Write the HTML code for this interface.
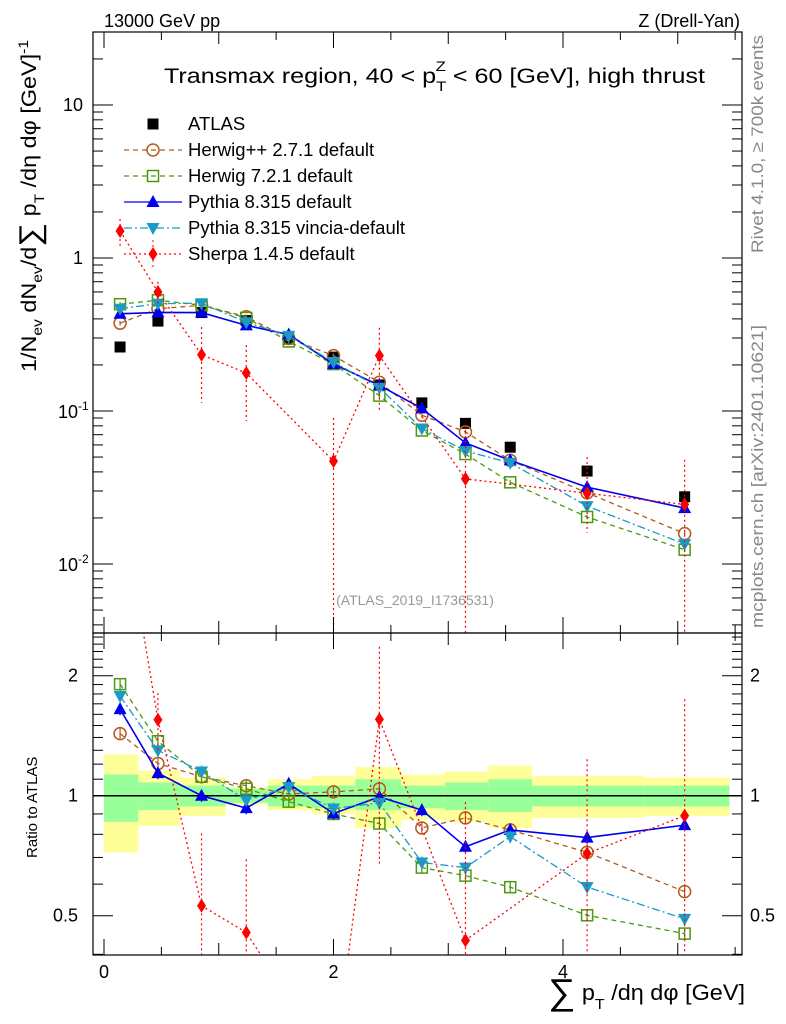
<!DOCTYPE html>
<html><head><meta charset="utf-8">
<style>
html,body{margin:0;padding:0;background:#fff;overflow:hidden;}
svg{display:block;}
svg text{font-family:"Liberation Sans","DejaVu Sans",sans-serif;}
</style></head>
<body>
<svg id="c" width="786" height="1024" viewBox="0 0 786 1024" xmlns="http://www.w3.org/2000/svg">
<text x="104" y="27" font-size="18">13000 GeV pp</text>
<text x="740" y="27" font-size="18" text-anchor="end">Z (Drell-Yan)</text>
<text x="164" y="83" font-size="21" textLength="541" lengthAdjust="spacingAndGlyphs">Transmax region, 40 &lt; p<tspan font-size="14" dy="8">T</tspan><tspan font-size="14" dx="-9" dy="-20">Z</tspan><tspan dy="12"> &lt; 60 [GeV], high thrust</tspan></text>
<text transform="translate(36,372) rotate(-90)" font-size="21" textLength="332" lengthAdjust="spacingAndGlyphs">1/N<tspan font-size="14" dy="6">ev</tspan><tspan dy="-6"> dN</tspan><tspan font-size="14" dy="6">ev</tspan><tspan dy="-6">/d</tspan><tspan font-size="30" dy="4">∑</tspan><tspan dy="-4"> p</tspan><tspan font-size="14" dy="8">T</tspan><tspan dy="-8"> /dη dφ  [GeV]</tspan><tspan font-size="14" dy="-8">-1</tspan></text>
<text transform="translate(763,253) rotate(-90)" font-size="17" fill="#888" textLength="218" lengthAdjust="spacingAndGlyphs">Rivet 4.1.0, ≥ 700k events</text>
<text transform="translate(763,628) rotate(-90)" font-size="17" fill="#888" textLength="303" lengthAdjust="spacingAndGlyphs">mcplots.cern.ch [arXiv:2401.10621]</text>
<text x="415" y="605" font-size="14" fill="#999" text-anchor="middle">(ATLAS_2019_I1736531)</text>
<text transform="translate(37,858) rotate(-90)" font-size="15">Ratio to ATLAS</text>
<text x="548" y="1000" font-size="22" textLength="197" lengthAdjust="spacingAndGlyphs"><tspan font-size="36" dy="4">∑</tspan><tspan dy="-4"> p</tspan><tspan font-size="15" dy="9">T</tspan><tspan dy="-9"> /dη dφ [GeV]</tspan></text>
<g id="g"></g>
</svg>
<script>
const edges=[0,0.30,0.66,1.06,1.43,1.81,2.19,2.59,2.97,3.35,3.73,4.70,5.45];
const centers=[0.14,0.47,0.85,1.24,1.61,2.0,2.40,2.77,3.15,3.54,4.21,5.06];
const atlas=[0.262,0.387,0.44,0.39,0.295,0.225,0.148,0.113,0.083,0.058,0.0405,0.0275];
const bandYelUp=[1.27,1.155,1.11,1.05,1.10,1.12,1.18,1.13,1.15,1.19,1.12,1.11];
const bandYelDn=[0.72,0.84,0.89,0.95,0.92,0.90,0.83,0.87,0.86,0.83,0.88,0.89];
const bandGrnUp=[1.13,1.08,1.06,1.04,1.06,1.06,1.10,1.06,1.08,1.10,1.06,1.06];
const bandGrnDn=[0.86,0.92,0.94,0.96,0.94,0.93,0.92,0.93,0.92,0.91,0.94,0.94];
const herwigpp=[0.375,0.466,0.491,0.413,0.298,0.230,0.154,0.0938,0.073,0.0476,0.0292,0.0158];
const herwig7=[0.499,0.530,0.491,0.406,0.285,0.2025,0.126,0.0746,0.0523,0.0342,0.0203,0.0124];
const pythia=[0.432,0.441,0.44,0.363,0.316,0.203,0.147,0.104,0.0618,0.0476,0.0318,0.0232];
const vincia=[0.466,0.503,0.506,0.380,0.310,0.209,0.142,0.0768,0.0548,0.0458,0.0239,0.0135];
const sherpa=[1.5,0.6,0.233,0.177,null,0.047,0.23,null,0.036,null,0.029,0.0245];
const sherpaHi=[1.8,0.7,0.354,0.27,null,0.09,0.35,null,0.08,null,0.05,0.048];
const sherpaLo=[1.2,0.5,0.113,0.086,null,0.001,0.1,null,0.001,null,0.016,0.001];
const xTickLabels=["0","2","4"];

const NS="http://www.w3.org/2000/svg";
const G=document.getElementById('g');
const L=93,R=742,T=32,MB=633,RB=955;
const X=v=>104+v*114.75;
const YM=v=>105-(Math.log10(v)-1)*153;
const YR=v=>795.7-Math.log2(v)*120;
function el(tag,at,par){const e=document.createElementNS(NS,tag);for(const k in at)e.setAttribute(k,at[k]);(par||G).appendChild(e);return e;}
const clipM=el('clipPath',{id:'cm'});el('rect',{x:L,y:T,width:R-L,height:MB-T},clipM);
const clipR=el('clipPath',{id:'cr'});el('rect',{x:L,y:MB,width:R-L,height:RB-MB},clipR);
const gm=el('g',{'clip-path':'url(#cm)'});


const gr=el('g',{'clip-path':'url(#cr)'});



for(let i=0;i<12;i++){
  const x0=X(edges[i]),w=X(edges[i+1])-x0;
  const y=el('rect',{x:x0,y:YR(bandYelUp[i]),width:w,height:YR(bandYelDn[i])-YR(bandYelUp[i]),fill:'#ffff99'},gr);
  
  
  const g2=el('rect',{x:x0,y:YR(bandGrnUp[i]),width:w,height:YR(bandGrnDn[i])-YR(bandGrnUp[i]),fill:'#99ff99'},gr);
  
  
}
el('line',{x1:L,x2:R,y1:YR(1),y2:YR(1),stroke:'#000','stroke-width':1.5},gr);

function marker(par,type,x,y,col){
  const s=5.5;
  if(type==='sq')return el('rect',{x:x-s,y:y-s,width:2*s,height:2*s,fill:'#000'},par);
  if(type==='osq')return el('rect',{x:x-s,y:y-s,width:2*s,height:2*s,fill:'none',stroke:col,'stroke-width':1.5},par);
  if(type==='oc')return el('circle',{cx:x,cy:y,r:6,fill:'none',stroke:col,'stroke-width':1.5},par);
  if(type==='tu')return el('path',{d:`M${x},${y-7}L${x+6.5},${y+5}L${x-6.5},${y+5}Z`,fill:col},par);
  if(type==='td')return el('path',{d:`M${x},${y+7}L${x+6.5},${y-5}L${x-6.5},${y-5}Z`,fill:col},par);
  if(type==='dm')return el('path',{d:`M${x},${y-7}L${x+4.5},${y}L${x},${y+7}L${x-4.5},${y}Z`,fill:col},par);
}
const series=[
 {n:'herwigpp',d:herwigpp,c:'#b35a1f',dash:'5,4',m:'oc',lab:'Herwig++ 2.7.1 default'},
 {n:'herwig7',d:herwig7,c:'#4a9a10',dash:'5,4',m:'osq',lab:'Herwig 7.2.1 default'},
 {n:'pythia',d:pythia,c:'#0000ee',dash:'',m:'tu',lab:'Pythia 8.315 default'},
 {n:'vincia',d:vincia,c:'#1a9ac4',dash:'8,3,2,3',m:'td',lab:'Pythia 8.315 vincia-default'},
 {n:'sherpa',d:sherpa,c:'#ff0000',dash:'2,3',m:'dm',lab:'Sherpa 1.4.5 default'}
];
function draw(par,Y,ratio){
  series.forEach(s=>{
    const pts=[];
    s.d.forEach((v,i)=>{if(v!=null){const val=ratio?v/atlas[i]:v;pts.push([X(centers[i]),Y(val),i,val]);}});
    const ln=el('polyline',{points:pts.map(p=>p[0]+','+p[1]).join(' '),fill:'none',stroke:s.c,'stroke-width':s.n==='pythia'?1.6:1.3,'stroke-dasharray':s.dash},par);
    
    
    pts.forEach(p=>{
      let hi,lo;
      if(s.n==='sherpa'){hi=sherpaHi[p[2]];lo=sherpaLo[p[2]];if(ratio){hi/=atlas[p[2]];lo/=atlas[p[2]];}}
      else{hi=p[3]*1.035;lo=p[3]*0.965;}
      el('line',{x1:p[0],x2:p[0],y1:Y(hi),y2:Y(lo),stroke:s.c,'stroke-width':1.2,'stroke-dasharray':s.n==='sherpa'?'2,3':''},par);
      const mk=marker(par,s.m,p[0],p[1],s.c);
      
      
    });
  });
}
atlas.forEach((v,i)=>{
  const m=marker(gm,'sq',X(centers[i]),YM(v));
  
  
});
draw(gm,YM,false);
draw(gr,YR,true);

el('rect',{x:L,y:T,width:R-L,height:MB-T,fill:'none',stroke:'#000','stroke-width':1.2});
el('rect',{x:L,y:MB,width:R-L,height:RB-MB,fill:'none',stroke:'#000','stroke-width':1.2});
for(let e=-3;e<=1;e++){for(let k=1;k<10;k++){const v=k*Math.pow(10,e);const y=YM(v);if(y<T||y>MB)continue;const len=k===1?20:10;
 el('line',{x1:L,x2:L+len,y1:y,y2:y,stroke:'#000'});el('line',{x1:R,x2:R-len,y1:y,y2:y,stroke:'#000'});}}
const yl=[[10,'10'],[1,'1']];
yl.forEach(a=>{const t=el('text',{x:83,y:YM(a[0])+6,'font-size':18,'text-anchor':'end'});t.textContent=a[1];});
[[0.1,'-1'],[0.01,'-2']].forEach(a=>{const t=el('text',{x:58,y:YM(a[0])+7,'font-size':18});t.textContent='10';const ts=el('tspan',{'font-size':12,dy:-8},t);ts.textContent=a[1];});
for(let v=0.4;v<=2.55;v+=0.1){const vv=Math.round(v*10)/10;const y=YR(vv);if(y<MB||y>RB)continue;const major=(vv===0.5||vv===1||vv===2);const len=major?20:10;
 el('line',{x1:L,x2:L+len,y1:y,y2:y,stroke:'#000'});el('line',{x1:R,x2:R-len,y1:y,y2:y,stroke:'#000'});}
[[2,'2'],[1,'1'],[0.5,'0.5']].forEach(a=>{
 const t=el('text',{x:78,y:YR(a[0])+6,'font-size':18,'text-anchor':'end'});t.textContent=a[1];
 const t2=el('text',{x:750,y:YR(a[0])+6,'font-size':18});t2.textContent=a[1];});
for(let i=0;i<=11;i++){const v=i*0.5;const x=X(v);const len=(i%4===0)?16:(i%2===0?12:8);
 [T,MB].forEach(y0=>el('line',{x1:x,x2:x,y1:y0,y2:y0+len,stroke:'#000'}));
 [MB,RB].forEach(y0=>el('line',{x1:x,x2:x,y1:y0,y2:y0-len,stroke:'#000'}));}
xTickLabels.forEach(s=>{const t=el('text',{x:X(+s),y:978,'font-size':18,'text-anchor':'middle'});t.textContent=s;});
const lg=el('g',{});


const ly0=124;
marker(lg,'sq',153,ly0);
const at=el('text',{x:188,y:ly0+6,'font-size':18.5},lg);at.textContent='ATLAS';


series.forEach((s,i)=>{const y=ly0+26*(i+1);
 el('line',{x1:124,x2:182,y1:y,y2:y,stroke:s.c,'stroke-width':1.3,'stroke-dasharray':s.dash},lg);
 if(s.n==='sherpa')el('line',{x1:153,x2:153,y1:y-14,y2:y+14,stroke:s.c,'stroke-dasharray':'2,3'},lg);
 marker(lg,s.m,153,y,s.c);
 const t=el('text',{x:188,y:y+6,'font-size':18.5},lg);t.textContent=s.lab;
 
 
});
</script>
</body></html>
